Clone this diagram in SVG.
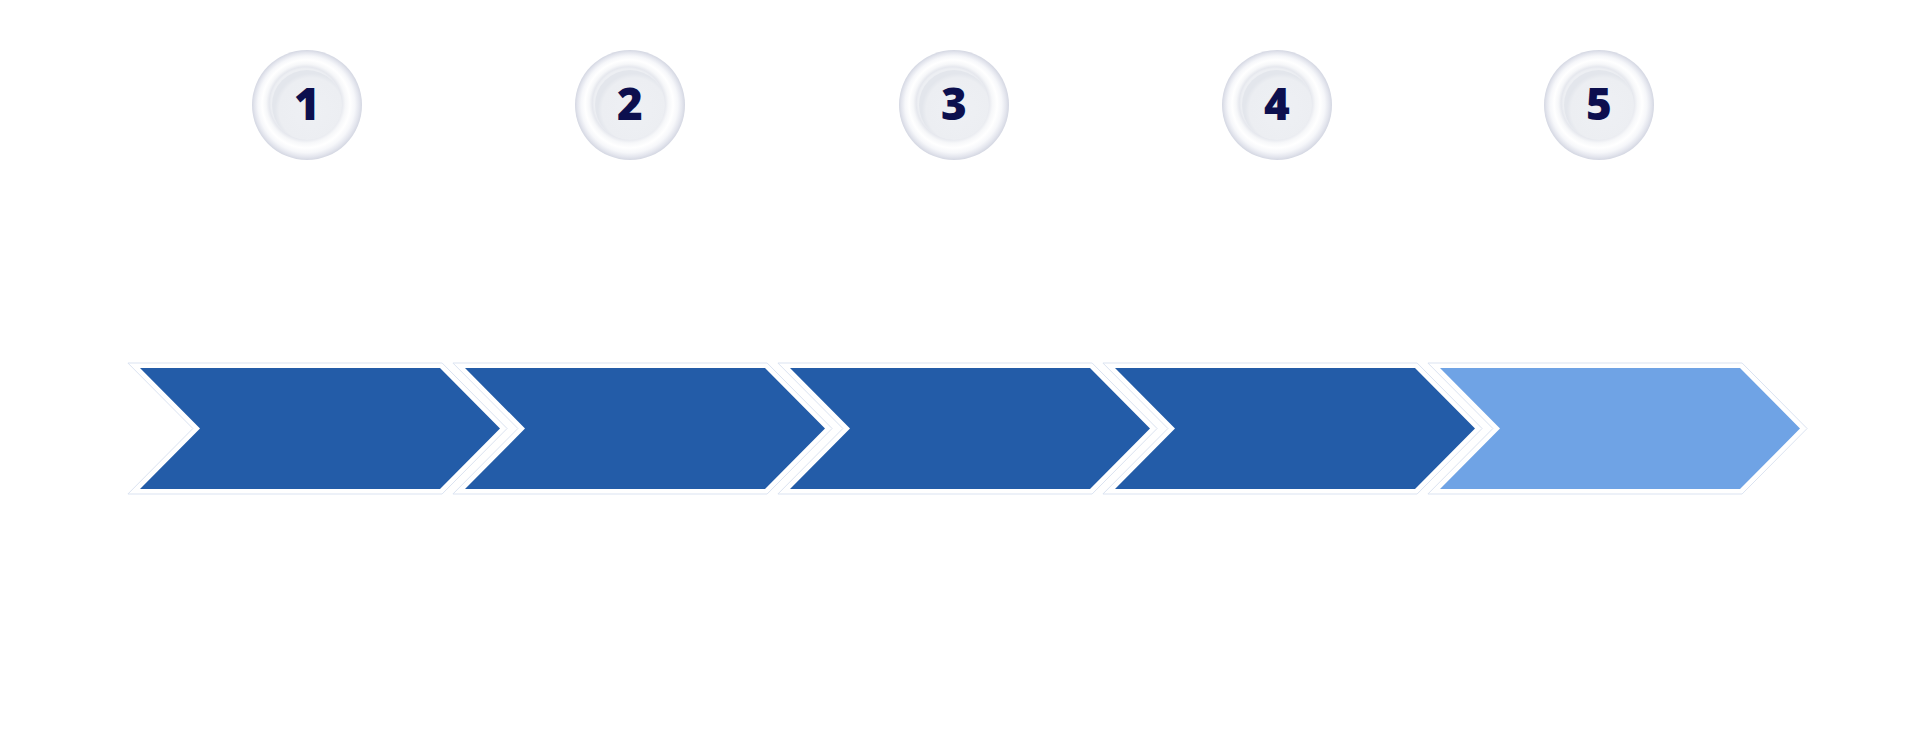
<svg xmlns="http://www.w3.org/2000/svg" width="1920" height="729" viewBox="0 0 1920 729">
  <defs>
    <radialGradient id="ring" cx="0.5" cy="0.5" r="0.5" fx="0.46" fy="0.45">
      <stop offset="0" stop-color="#edeff3"/>
      <stop offset="0.62" stop-color="#edeff3"/>
      <stop offset="0.66" stop-color="#e6e8ee"/>
      <stop offset="0.72" stop-color="#f6f7f9"/>
      <stop offset="0.8" stop-color="#ffffff"/>
      <stop offset="0.88" stop-color="#f6f7fa"/>
      <stop offset="0.95" stop-color="#e4e6ee"/>
      <stop offset="1" stop-color="#d4d7e2"/>
    </radialGradient>
    <radialGradient id="inner" cx="0.56" cy="0.57" r="0.52">
      <stop offset="0" stop-color="#eef0f4"/>
      <stop offset="0.88" stop-color="#eceef2"/>
      <stop offset="1" stop-color="#e3e6ec"/>
    </radialGradient>
  </defs>
  <style>
    .outer { fill: #ffffff; stroke: #dbe3f1; stroke-width: 1; }
    .dark { fill: #235ca8; }
    .light { fill: #6fa3e5; }
    .ring { fill: url(#ring); }
    .disk { fill: url(#inner); }
    .num { font-family: "Open Sans", "DejaVu Sans", sans-serif; font-weight: 800; font-size: 44px; fill: #0c0f4e; text-anchor: middle; }
  </style>
  <rect width="1920" height="729" fill="#ffffff"/>

  <g id="step1">
    <polygon class="outer" points="127.9,363 442.1,363 507.1,428.5 442.1,494 127.9,494 192.9,428.5"/>
    <polygon class="dark" points="140,368 440,368 500,428.5 440,489 140,489 200,428.5"/>
  </g>
  <g id="step2">
    <polygon class="outer" points="452.9,363 767.1,363 832.1,428.5 767.1,494 452.9,494 517.9,428.5"/>
    <polygon class="dark" points="465,368 765,368 825,428.5 765,489 465,489 525,428.5"/>
  </g>
  <g id="step3">
    <polygon class="outer" points="777.9,363 1092.1,363 1157.1,428.5 1092.1,494 777.9,494 842.9,428.5"/>
    <polygon class="dark" points="790,368 1090,368 1150,428.5 1090,489 790,489 850,428.5"/>
  </g>
  <g id="step4">
    <polygon class="outer" points="1102.9,363 1417.1,363 1482.1,428.5 1417.1,494 1102.9,494 1167.9,428.5"/>
    <polygon class="dark" points="1115,368 1415,368 1475,428.5 1415,489 1115,489 1175,428.5"/>
  </g>
  <g id="step5">
    <polygon class="outer" points="1427.9,363 1742.1,363 1807.1,428.5 1742.1,494 1427.9,494 1492.9,428.5"/>
    <polygon class="light" points="1440,368 1740,368 1800,428.5 1740,489 1440,489 1500,428.5"/>
  </g>

  <g id="badge1">
    <circle class="ring" cx="307" cy="105" r="55"/>
    <circle class="disk" cx="307" cy="105" r="35"/>
    <text class="num" x="307" y="119.5">1</text>
  </g>
  <g id="badge2">
    <circle class="ring" cx="630" cy="105" r="55"/>
    <circle class="disk" cx="630" cy="105" r="35"/>
    <text class="num" x="630" y="119.5">2</text>
  </g>
  <g id="badge3">
    <circle class="ring" cx="954" cy="105" r="55"/>
    <circle class="disk" cx="954" cy="105" r="35"/>
    <text class="num" x="954" y="119.5">3</text>
  </g>
  <g id="badge4">
    <circle class="ring" cx="1277" cy="105" r="55"/>
    <circle class="disk" cx="1277" cy="105" r="35"/>
    <text class="num" x="1277" y="119.5">4</text>
  </g>
  <g id="badge5">
    <circle class="ring" cx="1599" cy="105" r="55"/>
    <circle class="disk" cx="1599" cy="105" r="35"/>
    <text class="num" x="1599" y="119.5">5</text>
  </g>
</svg>
